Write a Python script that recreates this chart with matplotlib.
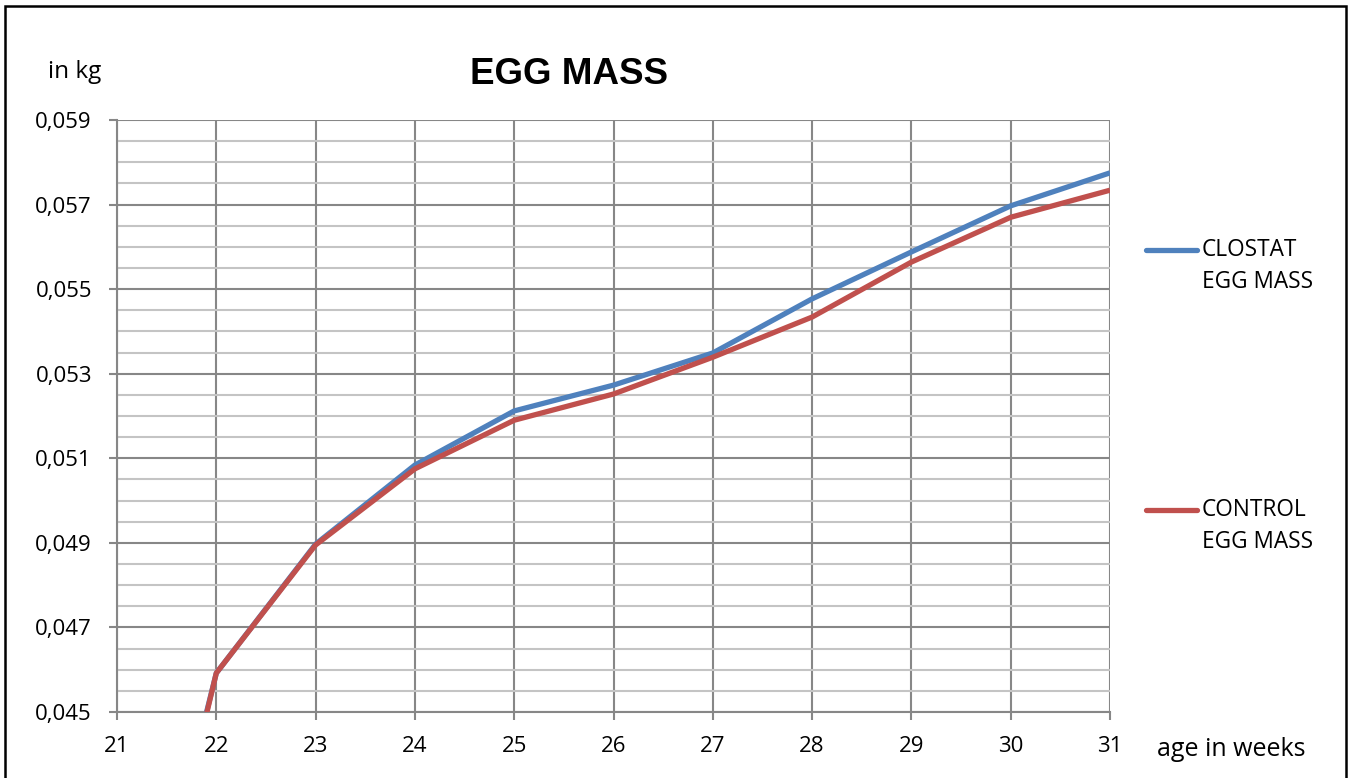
import matplotlib
matplotlib.use("Agg")
import matplotlib.pyplot as plt
from matplotlib.ticker import MultipleLocator, FixedLocator, FuncFormatter
from matplotlib.lines import Line2D
from matplotlib.patches import Rectangle

weeks = [21, 22, 23, 24, 25, 26, 27, 28, 29, 30, 31]
clostat = [0.0365, 0.04592, 0.04897, 0.05084, 0.05212, 0.05273, 0.05349, 0.05477, 0.05588, 0.05697, 0.05775]
control = [0.0361, 0.04592, 0.04895, 0.05075, 0.05190, 0.05252, 0.05339, 0.05434, 0.05564, 0.05670, 0.05734]
y_ticks = [0.045, 0.047, 0.049, 0.051, 0.053, 0.055, 0.057, 0.059]
series_names = [["CLOSTAT", "EGG MASS"], ["CONTROL", "EGG MASS"]]
title = "EGG MASS"
y_label = "in kg"
x_label = "age in weeks"

BLUE = "#4F81BD"
RED = "#C0504D"
FONT = "Open Sans"

fig = plt.figure(figsize=(13.51, 7.78), dpi=100)
ax = fig.add_axes([117/1351, 1-712/778, (1110-117)/1351, (712-120)/778])

ax.plot(weeks, clostat, color=BLUE, lw=3.8, solid_capstyle="butt", zorder=3)
ax.plot(weeks, control, color=RED, lw=3.8, solid_capstyle="butt", zorder=4)

ax.set_xlim(21, 31)
ax.set_ylim(0.045, 0.059)
ax.xaxis.set_major_locator(MultipleLocator(1))
ax.yaxis.set_major_locator(FixedLocator(y_ticks))
ax.yaxis.set_minor_locator(MultipleLocator(0.0005))
ax.yaxis.set_major_formatter(FuncFormatter(lambda v, p: f"{v:.3f}".replace(".", ",")))

ax.grid(True, which="major", color="#878787", lw=1.5, zorder=1)
ax.grid(True, which="minor", axis="y", color="#c4c4c4", lw=1.5, zorder=1)
ax.set_axisbelow(True)
for s in ["top", "right"]:
    ax.spines[s].set_visible(False)
for s in ["left", "bottom"]:
    ax.spines[s].set_color("#878787")
    ax.spines[s].set_linewidth(1.5)

ax.tick_params(which="major", length=6, width=1.5, color="#878787",
               labelsize=16)
ax.tick_params(axis="y", pad=12)
ax.tick_params(axis="x", pad=11)
ax.tick_params(which="minor", length=0)
for lbl in ax.get_xticklabels() + ax.get_yticklabels():
    lbl.set_fontfamily(FONT)

fig.text(569/1351, 1-75/778, title, ha="center", va="center",
         fontsize=26.5, fontweight="bold", family="Liberation Sans")
fig.text(75/1351, 1-72/778, y_label, ha="center", va="center",
         fontsize=17.5, family=FONT)
fig.text(1231/1351, 1-750/778, x_label, ha="center", va="center",
         fontsize=18, family=FONT)

# legend
for name, col, ypix in [(series_names[0], BLUE, 250), (series_names[1], RED, 510)]:
    fig.add_artist(Line2D([1146/1351, 1197/1351], [1-ypix/778, 1-ypix/778],
                          color=col, lw=3.8, solid_capstyle="round",
                          transform=fig.transFigure))
    fig.text(1202/1351, 1-ypix/778, name[0], ha="left", va="center",
             fontsize=16.3, family=FONT)
    fig.text(1202/1351, 1-(ypix+32)/778, name[1], ha="left", va="center",
             fontsize=16.3, family=FONT)

# outer frame
fig.add_artist(Rectangle((5/1351, -0.05), (1346-5)/1351, 1.05-6/778,
                         transform=fig.transFigure, fill=False,
                         edgecolor="black", lw=1.8))

fig.savefig("out.png", dpi=100)
